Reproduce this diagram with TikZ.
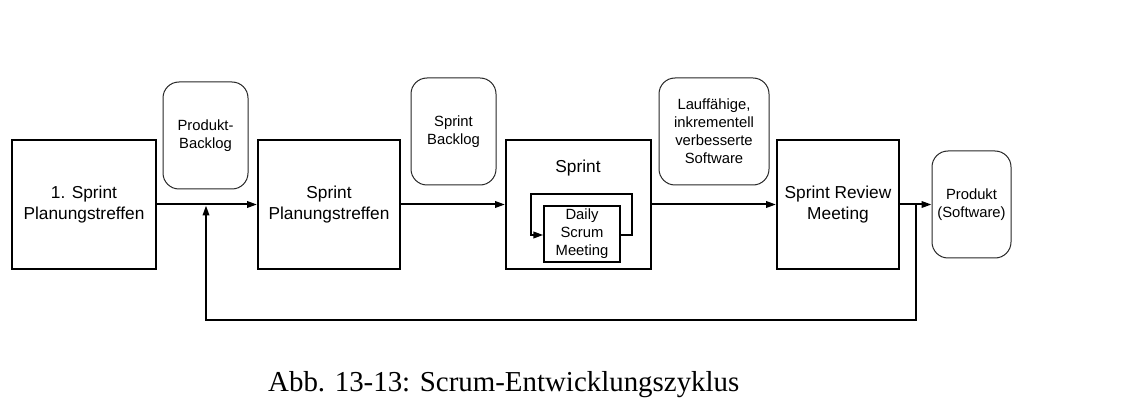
\documentclass[tikz,border=0pt]{standalone}
\usepackage{fontspec}
\setmainfont{Liberation Sans}
\newfontfamily\capfont{Liberation Serif}
\usetikzlibrary{arrows.meta}
\begin{document}
\begin{tikzpicture}[x=1pt,y=-1pt,
  proc/.style={draw, line width=2pt, rectangle, inner sep=0pt, align=center,
    font=\fontsize{17.3}{21}\selectfont},
  doc/.style={draw=black!85, line width=1pt, rounded corners=16pt, inner sep=0pt,
    align=center, font=\fontsize{14.8}{18}\selectfont},
  flow/.style={line width=2pt, -{Triangle[length=10pt,width=6.5pt]}},
  lbl/.style={inner sep=0pt, font=\fontsize{17.3}{21}\selectfont}]
\useasboundingbox (0,0) rectangle (1138,414);

\node[proc, minimum width=144pt, minimum height=129pt] (b1) at (84,204.5) {1. Sprint\\Planungstreffen};
\node[doc, minimum width=85pt, minimum height=107pt] (pb) at (205.5,135.5) {Produkt-\\Backlog};
\node[proc, minimum width=142pt, minimum height=129pt] (b2) at (329,204.5) {Sprint\\Planungstreffen};
\node[doc, minimum width=85pt, minimum height=107pt] (sb) at (453.5,131.5) {Sprint\\Backlog};
\node[proc, minimum width=145pt, minimum height=129pt] (sp) at (578.5,204.5) {};
\node[lbl, anchor=base] (splbl) at (578,173) {Sprint};
\node[draw, line width=1.3pt, minimum width=76pt, minimum height=56pt, inner sep=0pt,
  align=center, font=\fontsize{14.8}{18}\selectfont] (daily) at (582,234) {Daily\\Scrum\\Meeting};
\node[doc, minimum width=110pt, minimum height=107pt] (lsw) at (714,131.5) {Lauffähige,\\inkrementell\\verbesserte\\Software};
\node[proc, minimum width=122pt, minimum height=129pt] (rev) at (838,204.5) {Sprint Review\\Meeting};
\node[doc, minimum width=79pt, minimum height=107pt] (prod) at (971.5,204.5) {Produkt\\(Software)};

\draw[flow] (b1.east) -- (b2.west);
\draw[flow] (b2.east) -- (sp.west);
\draw[flow] (sp.east) -- (rev.west);
\draw[flow] (rev.east) -- (prod.west);

\coordinate (fbA) at (916,204.5);
\coordinate (fbB) at (916,320);
\coordinate (fbC) at (206,320);
\coordinate (fbD) at (206,205.5);
\draw[flow] (fbA) -- (fbB) -- (fbC) -- (fbD);

\coordinate (lpA) at (632,235);
\coordinate (lpB) at (632,194);
\coordinate (lpC) at (531,194);
\coordinate (lpD) at (531,235);
\draw[flow] (daily.east |- lpA) -- (lpA) -- (lpB) -- (lpC) -- (lpD) -- (daily.west |- lpD);

\node[anchor=base west, inner sep=0pt, font=\capfont\fontsize{28.9}{30}\selectfont] (cap) at (268,391) {Abb. 13-13: Scrum-Entwicklungszyklus};
\end{tikzpicture}
\end{document}
